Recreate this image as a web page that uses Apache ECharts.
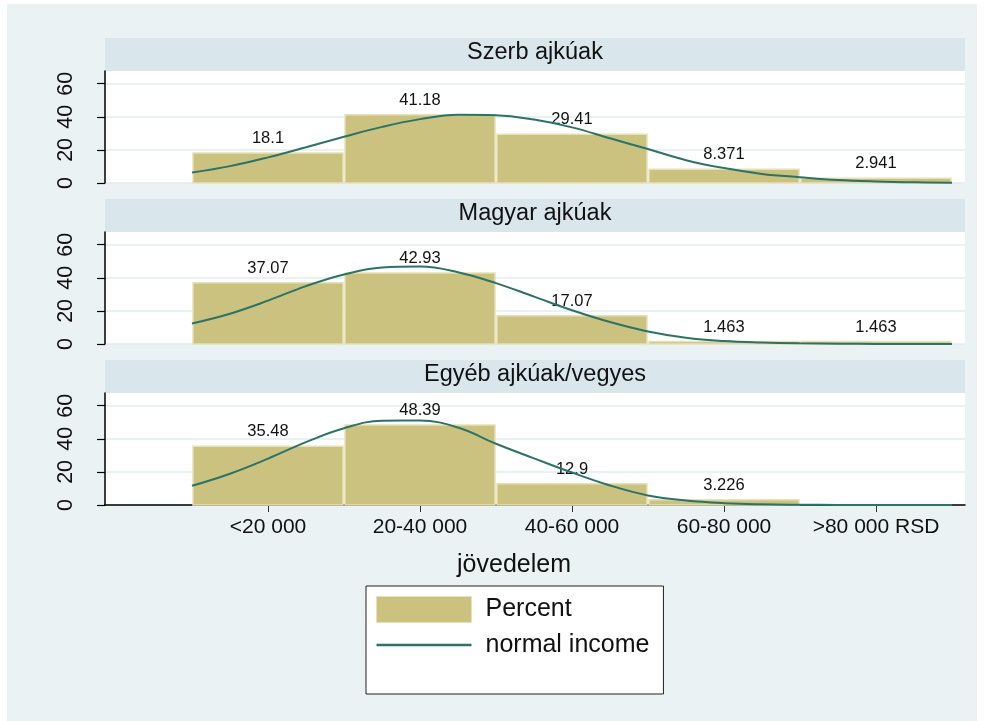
<!DOCTYPE html>
<html><head><meta charset="utf-8">
<script src="https://cdn.jsdelivr.net/npm/echarts@6/dist/echarts.min.js"></script>
<style>html,body{margin:0;padding:0;background:#fff}#c{width:987px;height:721px}</style>
</head><body><div id="c"></div>
<script>
// ---- data ----
const categories = ['<20 000', '20-40 000', '40-60 000', '60-80 000', '>80 000 RSD'];
const groups = ['Szerb ajkúak', 'Magyar ajkúak', 'Egyéb ajkúak/vegyes'];
const percentSzerb = [18.1, 41.18, 29.41, 8.371, 2.941];
const percentMagyar = [37.07, 42.93, 17.07, 1.463, 1.463];
const percentEgyeb = [35.48, 48.39, 12.9, 3.226, null];
const curveX = [0.5, 0.75, 1, 1.25, 1.5, 1.75, 2, 2.25, 2.5, 2.75, 3, 3.25, 3.5, 3.75, 4, 4.25, 4.5, 4.75, 5, 5.25, 5.5];
const normalSzerb = [6.3, 10.2, 15.5, 21.6, 27.9, 33.9, 38.6, 41.3, 41.0, 38.3, 33.6, 27.0, 20.5, 13.8, 9.0, 5.5, 3.5, 1.8, 0.9, 0.4, 0.2];
const normalMagyar = [12.4, 18.3, 26.2, 35.0, 42.0, 46.2, 46.8, 43.4, 36.8, 28.6, 20.4, 13.3, 7.6, 3.8, 1.8, 0.9, 0.4, 0.15, 0.05, 0.02, 0];
const normalEgyeb = [11.6, 18.9, 28.0, 38.0, 46.4, 50.9, 51.0, 46.8, 37.0, 28.2, 19.6, 11.8, 5.8, 2.7, 1.1, 0.4, 0.15, 0.05, 0.02, 0, 0];
const yTicks = [0, 20, 40, 60];
const percents = [percentSzerb, percentMagyar, percentEgyeb];
const normals = [normalSzerb, normalMagyar, normalEgyeb];

// ---- style / layout ----
const FONT = 'Liberation Sans, Arial, Helvetica, sans-serif';
const BG = '#EAF2F3', STRIP = '#D9E6EB', GRIDLINE = '#E3ECEE';
const BAR = '#CBC280', BAR_EDGE = '#E6E1B6', LINE = '#2C7367', TXT = '#111';
const PLOT_L = 105, PLOT_R = 965, W = 987;
const tops = [71, 232, 393], PH = 112, SH = 33;
const X_MIN = -0.0724, X_MAX = 5.5855, Y_MAX = 67.67;

const chart = echarts.init(document.getElementById('c'), null, {renderer: 'canvas'});

const grid = [], xAxis = [], yAxis = [], series = [], graphic = [];
graphic.push({type: 'rect', silent: true, z: -10, shape: {x: 7, y: 4, width: 970, height: 717}, style: {fill: BG}});

tops.forEach((t, i) => {
  grid.push({left: PLOT_L, right: W - PLOT_R, top: t, height: PH, show: true, backgroundColor: '#fff', borderWidth: 0, containLabel: false});
  const last = i === tops.length - 1;
  xAxis.push({
    type: 'value', gridIndex: i, min: X_MIN, max: X_MAX,
    axisLine: {show: last, onZero: false, lineStyle: {color: '#000', width: 1.5}},
    axisTick: {show: last, length: 7, customValues: [1, 2, 3, 4, 5], lineStyle: {color: '#333', width: 1}},
    axisLabel: {show: last, customValues: [1, 2, 3, 4, 5], margin: 12, fontFamily: FONT, fontSize: 21, color: TXT,
      formatter: v => categories[Math.round(v) - 1] || ''},
    splitLine: {show: false}
  });
  yAxis.push({
    type: 'value', gridIndex: i, min: 0, max: Y_MAX,
    axisLine: {show: true, onZero: false, lineStyle: {color: '#000', width: 1.5}},
    axisTick: {show: true, length: 8, customValues: yTicks, lineStyle: {color: '#000', width: 1.2}},
    axisLabel: {show: true, customValues: yTicks, rotate: 90, margin: 28, fontFamily: FONT, fontSize: 21.5, color: TXT},
    splitLine: {show: true, lineStyle: {color: GRIDLINE, width: 1.5}}
  });
  // strip header
  graphic.push({type: 'rect', silent: true, z: -5, shape: {x: PLOT_L, y: t - SH, width: PLOT_R - PLOT_L, height: SH}, style: {fill: STRIP}});
  graphic.push({type: 'text', silent: true, z: 5, x: (PLOT_L + PLOT_R) / 2, y: t - SH + 15,
    style: {text: groups[i], font: '23.5px ' + FONT, fill: TXT, textAlign: 'center', textVerticalAlign: 'middle'}});

  series.push({
    type: 'custom', name: 'Percent', xAxisIndex: i, yAxisIndex: i,
    itemStyle: {color: BAR, borderColor: BAR_EDGE},
    data: percents[i].map((v, k) => [k + 1, v]),
    renderItem: (params, api) => {
      const x = api.value(0), v = api.value(1);
      if (v == null || isNaN(v)) return null;
      const p0 = api.coord([x - 0.5, 0]);
      const p1 = api.coord([x + 0.5, v]);
      return {type: 'group', children: [
        {type: 'rect', shape: {x: p0[0] + 1, y: p1[1], width: p1[0] - p0[0] - 2, height: p0[1] - p1[1]},
          style: {fill: BAR, stroke: BAR_EDGE, lineWidth: 1.5}},
        {type: 'text', style: {text: String(percents[i][params.dataIndex]), x: (p0[0] + p1[0]) / 2, y: p1[1] - 6,
          textAlign: 'center', textVerticalAlign: 'bottom', font: '16.5px ' + FONT, fill: TXT}}
      ]};
    },
    z: 2
  });
  series.push({
    type: 'line', name: 'normal income', xAxisIndex: i, yAxisIndex: i,
    data: curveX.map((x, k) => [x, normals[i][k]]),
    smooth: 0.4, symbol: 'none', showSymbol: false,
    lineStyle: {color: LINE, width: 2}, itemStyle: {color: LINE}, z: 3
  });
});

graphic.push({type: 'text', silent: true, x: 514, y: 565,
  style: {text: 'jövedelem', font: '25px ' + FONT, fill: TXT, textAlign: 'center', textVerticalAlign: 'middle'}});

chart.setOption({
  animation: false,
  backgroundColor: '#fff',
  grid, xAxis, yAxis, series, graphic,
  legend: {
    left: 366, top: 586, orient: 'vertical',
    data: [
      {name: 'Percent', icon: 'rect', itemStyle: {color: BAR, borderColor: BAR_EDGE, borderWidth: 1}},
      {name: 'normal income', icon: 'path://M0,0L95,0L95,2.5L0,2.5Z', itemStyle: {color: LINE, borderWidth: 0}}
    ],
    symbolKeepAspect: true,
    itemWidth: 95, itemHeight: 26, itemGap: 9,
    padding: [10, 14, 36, 10],
    backgroundColor: '#fff', borderColor: '#222', borderWidth: 1,
    selectedMode: false,
    textStyle: {fontFamily: FONT, fontSize: 25, color: TXT, lineHeight: 26, padding: [0, 0, 0, 9]}
  }
});
</script></body></html>
